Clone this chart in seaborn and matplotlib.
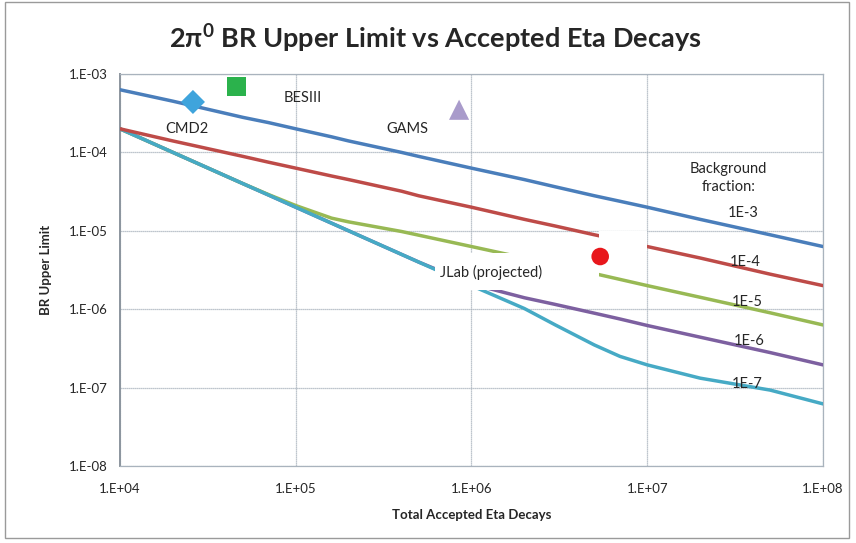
import numpy as np
import pandas as pd
import matplotlib
matplotlib.use("Agg")
import matplotlib.pyplot as plt
import seaborn as sns
from matplotlib.patches import Rectangle
from matplotlib.ticker import FixedLocator, FuncFormatter

# accepted eta decays (x) and read-off upper limits per background fraction
decays = [1e4, 2e4, 5e4, 7e4, 1e5, 1.6e5, 2e5, 4e5, 5e5, 1e6, 2e6, 3e6, 5e6, 7e6, 1e7, 2e7, 5e7, 1e8]
ul_1e3 = [6.3e-4, 4.5e-4, 2.8e-4, 2.4e-4, 2.0e-4, 1.58e-4, 1.4e-4, 1.0e-4, 8.9e-5, 6.3e-5, 4.5e-5, 3.64e-5, 2.8e-5, 2.38e-5, 2.0e-5, 1.4e-5, 8.9e-6, 6.3e-6]
ul_1e4 = [2.0e-4, 1.4e-4, 8.9e-5, 7.5e-5, 6.3e-5, 5.0e-5, 4.5e-5, 3.2e-5, 2.8e-5, 2.0e-5, 1.4e-5, 1.15e-5, 8.9e-6, 7.6e-6, 6.3e-6, 4.5e-6, 2.8e-6, 2.0e-6]
ul_1e5 = [2.0e-4, 1.0e-4, 4.0e-5, 2.9e-5, 2.1e-5, 1.45e-5, 1.3e-5, 9.8e-6, 8.8e-6, 6.3e-6, 4.5e-6, 3.65e-6, 2.85e-6, 2.4e-6, 2.0e-6, 1.42e-6, 9.0e-7, 6.3e-7]
ul_1e6 = [2.0e-4, 1.0e-4, 4.0e-5, 2.86e-5, 2.0e-5, 1.25e-5, 1.0e-5, 5.0e-6, 4.0e-6, 2.1e-6, 1.4e-6, 1.15e-6, 8.9e-7, 7.5e-7, 6.2e-7, 4.4e-7, 2.8e-7, 1.95e-7]
ul_1e7 = [2.0e-4, 1.0e-4, 4.0e-5, 2.86e-5, 2.0e-5, 1.25e-5, 1.0e-5, 5.0e-6, 4.0e-6, 2.0e-6, 1.02e-6, 6.3e-7, 3.5e-7, 2.5e-7, 1.95e-7, 1.32e-7, 9.3e-8, 6.2e-8]
bg_labels = ["1E-3", "1E-4", "1E-5", "1E-6", "1E-7"]

# experiments
exp_names = ["CMD2", "BESIII", "GAMS", "JLab (projected)"]
exp_decays = [2.6e4, 4.6e4, 8.5e5, 5.4e6]
exp_limits = [4.4e-4, 7.0e-4, 3.5e-4, 4.7e-6]

line_colors = {"1E-3": "#4a7ebb", "1E-4": "#be4b48", "1E-5": "#98b954",
               "1E-6": "#7d60a0", "1E-7": "#46aac5"}
draw_order = ["1E-6", "1E-5", "1E-7", "1E-4", "1E-3"]
exp_colors = ["#3fa4dc", "#2bb24c", "#a99bcb", "#e8171c"]
exp_markers = ["D", "s", "^", "o"]
exp_sizes = [150, 190, 210, 160]

sns.set_style("white")
plt.rcParams["font.family"] = ["Lato", "DejaVu Sans"]
plt.rcParams["mathtext.fontset"] = "custom"
plt.rcParams["mathtext.rm"] = "Lato"
plt.rcParams["mathtext.bf"] = "Lato:bold"

rows = []
for lab, vals in zip(bg_labels, [ul_1e3, ul_1e4, ul_1e5, ul_1e6, ul_1e7]):
    for x, y in zip(decays, vals):
        rows.append({"decays": x, "limit": y, "bg": lab})
df = pd.DataFrame(rows)

fig = plt.figure(figsize=(8.56, 5.43), dpi=100)
ax = fig.add_axes([0.1402, 0.1418, 0.8212, 0.7219])
ax.set_xscale("log")
ax.set_yscale("log")

for lab in draw_order:
    sns.lineplot(data=df[df.bg == lab], x="decays", y="limit", color=line_colors[lab],
                 linewidth=2.5, ax=ax, legend=False, zorder=3)

# white label patch that hides part of the curves
ax.add_patch(Rectangle((6.2e5, 1.75e-6), 5.3e6 - 6.2e5, 5.2e-6 - 1.75e-6,
                       facecolor="white", edgecolor="none", zorder=4))
ax.add_patch(Rectangle((5.3e6, 5.5e-6), 1.0e7 - 5.3e6, 1.0e-5 - 5.5e-6,
                       facecolor="white", edgecolor="none", zorder=4))

edf = pd.DataFrame({"decays": exp_decays, "limit": exp_limits, "exp": exp_names})
for i in range(len(exp_names)):
    sns.scatterplot(data=edf.iloc[[i]], x="decays", y="limit", marker=exp_markers[i],
                    s=exp_sizes[i], color=exp_colors[i], edgecolor="none",
                    ax=ax, legend=False, zorder=6)

ax.set_xlim(1e4, 1e8)
ax.set_ylim(1e-8, 1e-3)
ax.xaxis.set_major_locator(FixedLocator([1e4, 1e5, 1e6, 1e7, 1e8]))
ax.yaxis.set_major_locator(FixedLocator([1e-8, 1e-7, 1e-6, 1e-5, 1e-4, 1e-3]))
ax.xaxis.set_minor_locator(FixedLocator([]))
ax.yaxis.set_minor_locator(FixedLocator([]))
fmt = FuncFormatter(lambda v, p: "1.E%+03d" % int(round(np.log10(v))))
ax.xaxis.set_major_formatter(fmt)
ax.yaxis.set_major_formatter(fmt)
ax.grid(True, color="#a9b3bd", linewidth=0.9, linestyle=(0, (1, 0.6)))
for s in ax.spines.values():
    s.set_color("#a9b3bd")
    s.set_linewidth(0.9)
ax.spines["left"].set_color("#8c959e")
ax.spines["left"].set_linewidth(1.4)
ax.tick_params(axis="y", length=5, width=0.9, color="#8c959e", labelsize=9.5, pad=4)
ax.tick_params(axis="x", length=0, labelsize=9.5, pad=12)

ax.set_xlabel("Total Accepted Eta Decays", fontsize=9.5, fontweight="bold", labelpad=10)
ax.set_ylabel("BR Upper Limit", fontsize=9.5, fontweight="bold", labelpad=12)
fig.text(0.509, 0.93, r"2π$^{\mathbf{0}}$ BR Upper Limit vs Accepted Eta Decays",
         ha="center", va="center", fontsize=19.5, fontweight="bold")

# annotations
ax.text(2.4e4, 2.0e-4, "CMD2", fontsize=10.5, ha="center", va="center")
ax.text(1.1e5, 4.9e-4, "BESIII", fontsize=10.5, ha="center", va="center")
ax.text(4.3e5, 2.0e-4, "GAMS", fontsize=10.5, ha="center", va="center")
ax.text(1.3e6, 2.95e-6, "JLab (projected)", fontsize=10.5, ha="center", va="center", zorder=7)
ax.text(2.9e7, 4.7e-5, "Background\nfraction:", fontsize=10.5, ha="center", va="center",
        linespacing=1.3)
label_x = [3.5e7, 3.6e7, 3.7e7, 3.8e7, 3.7e7]
label_y = [1.7e-5, 4.0e-6, 1.23e-6, 3.9e-7, 1.1e-7]
for lab, lx, ly in zip(bg_labels, label_x, label_y):
    ax.text(lx, ly, lab, fontsize=10.5, ha="center", va="center", zorder=7)

# outer frame
fig.add_artist(Rectangle((5 / 856, 5 / 543), 844 / 856, 536 / 543, transform=fig.transFigure,
                         fill=False, edgecolor="#9a9a9a", linewidth=1.0))

fig.savefig("out.png", dpi=100)
